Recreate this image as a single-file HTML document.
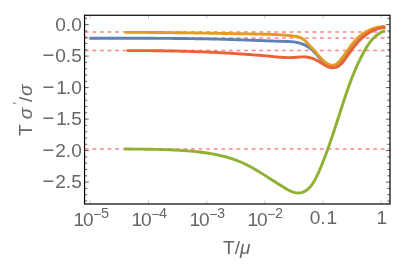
<!DOCTYPE html>
<html><head><meta charset="utf-8"><title>plot</title>
<style>html,body{margin:0;padding:0;background:#fff}body{width:403px;height:273px;overflow:hidden}</style></head>
<body>
<svg width="403" height="273" viewBox="0 0 403 273" style="display:block">
<rect width="403" height="273" fill="#fff"/>
<line x1="84.75" x2="390.0" y1="32.05" y2="32.05" stroke="#ff8585" stroke-width="1.45" stroke-dasharray="3.8 3.79"/>
<line x1="84.75" x2="390.0" y1="37.9" y2="37.9" stroke="#ff8585" stroke-width="1.45" stroke-dasharray="3.8 3.79"/>
<line x1="84.75" x2="390.0" y1="50.45" y2="50.45" stroke="#ff8585" stroke-width="1.45" stroke-dasharray="3.8 3.79"/>
<line x1="84.75" x2="390.0" y1="149.0" y2="149.0" stroke="#ff8585" stroke-width="1.45" stroke-dasharray="3.8 3.79"/>
<path d="M89.40,38.19 L91.01,38.19 L92.61,38.20 L94.22,38.20 L95.83,38.20 L97.43,38.21 L99.04,38.21 L100.64,38.22 L102.25,38.22 L103.86,38.22 L105.46,38.23 L107.07,38.23 L108.68,38.23 L110.28,38.23 L111.89,38.24 L113.50,38.24 L115.10,38.24 L116.71,38.24 L118.32,38.24 L119.92,38.25 L121.53,38.25 L123.14,38.25 L124.75,38.25 L126.35,38.25 L127.96,38.26 L129.57,38.26 L131.17,38.26 L132.78,38.26 L134.39,38.26 L136.00,38.27 L137.60,38.27 L139.21,38.27 L140.82,38.28 L142.43,38.28 L144.03,38.28 L145.64,38.29 L147.25,38.29 L148.86,38.30 L150.46,38.30 L152.07,38.31 L153.68,38.32 L155.28,38.32 L156.89,38.33 L158.50,38.34 L160.11,38.34 L161.71,38.35 L163.32,38.36 L164.93,38.37 L166.54,38.38 L168.14,38.39 L169.75,38.40 L171.36,38.41 L172.97,38.43 L174.57,38.44 L176.18,38.45 L177.79,38.47 L179.40,38.48 L181.00,38.50 L182.61,38.52 L184.22,38.53 L185.82,38.55 L187.43,38.57 L189.04,38.59 L190.65,38.61 L192.25,38.63 L193.86,38.66 L195.47,38.68 L197.07,38.71 L198.68,38.73 L200.29,38.76 L201.89,38.79 L203.50,38.81 L205.11,38.84 L206.71,38.87 L208.32,38.91 L209.92,38.94 L211.53,38.97 L213.14,39.01 L214.74,39.05 L216.35,39.08 L217.95,39.12 L219.56,39.16 L221.16,39.20 L222.77,39.25 L224.38,39.29 L225.98,39.34 L227.59,39.38 L229.19,39.43 L230.80,39.48 L232.40,39.53 L234.01,39.58 L235.61,39.64 L237.22,39.69 L238.82,39.75 L240.42,39.81 L242.03,39.86 L243.63,39.92 L245.24,39.98 L246.84,40.05 L248.45,40.11 L250.05,40.17 L251.66,40.23 L253.26,40.29 L254.87,40.36 L256.47,40.42 L258.08,40.48 L259.68,40.55 L261.29,40.61 L262.89,40.67 L264.50,40.73 L266.11,40.79 L267.71,40.85 L269.32,40.91 L270.93,40.97 L272.54,41.02 L274.15,41.08 L275.76,41.13 L277.37,41.18 L278.98,41.24 L280.59,41.28 L282.20,41.33 L283.81,41.38 L285.42,41.42 L287.04,41.47 L288.65,41.53 L290.25,41.61 L291.86,41.73 L293.45,41.89 L295.04,42.10 L296.62,42.37 L298.19,42.71 L299.74,43.13 L301.28,43.62 L302.79,44.18 L304.27,44.80 L305.71,45.50 L307.12,46.27 L308.49,47.11 L309.80,48.01 L311.06,48.98 L312.27,50.02 L313.42,51.12 L314.53,52.27 L315.62,53.45 L316.69,54.66 L317.75,55.88 L318.82,57.11 L319.92,58.32 L321.04,59.51 L322.21,60.67 L323.44,61.79 L324.74,62.84 L326.11,63.82 L327.53,64.68 L328.99,65.36 L330.46,65.82 L331.92,66.00 L333.35,65.87 L334.74,65.43 L336.09,64.73 L337.38,63.83 L338.63,62.78 L339.83,61.62 L340.97,60.42 L342.05,59.18 L343.10,57.91 L344.10,56.63 L345.07,55.33 L346.01,54.02 L346.94,52.69 L347.85,51.37 L348.77,50.05 L349.68,48.73 L350.61,47.41 L351.55,46.12 L352.52,44.84 L353.52,43.58 L354.55,42.34 L355.61,41.13 L356.71,39.96 L357.85,38.82 L359.01,37.72 L360.22,36.65 L361.46,35.64 L362.73,34.67 L364.04,33.75 L365.39,32.89 L366.77,32.08 L368.19,31.33 L369.64,30.64 L371.13,30.02 L372.63,29.44 L374.16,28.93 L375.71,28.47 L377.28,28.06 L378.85,27.70 L380.43,27.40 L382.02,27.15 L383.61,26.94 L385.19,26.79" fill="none" stroke="#5e81b5" stroke-width="2.9" stroke-linejoin="round"/>
<path d="M124.70,32.33 L126.14,32.33 L127.59,32.33 L129.03,32.33 L130.48,32.34 L131.92,32.34 L133.37,32.35 L134.81,32.35 L136.26,32.36 L137.70,32.36 L139.15,32.37 L140.59,32.38 L142.04,32.39 L143.48,32.39 L144.93,32.40 L146.37,32.41 L147.81,32.42 L149.26,32.43 L150.70,32.44 L152.15,32.45 L153.59,32.46 L155.04,32.48 L156.48,32.49 L157.93,32.50 L159.37,32.51 L160.82,32.53 L162.26,32.54 L163.70,32.56 L165.15,32.57 L166.59,32.59 L168.04,32.60 L169.48,32.62 L170.93,32.63 L172.37,32.65 L173.82,32.67 L175.26,32.68 L176.70,32.70 L178.15,32.72 L179.59,32.74 L181.04,32.76 L182.48,32.78 L183.93,32.80 L185.37,32.82 L186.82,32.84 L188.26,32.86 L189.70,32.88 L191.15,32.90 L192.59,32.92 L194.04,32.94 L195.48,32.96 L196.93,32.99 L198.37,33.01 L199.82,33.03 L201.26,33.05 L202.70,33.08 L204.15,33.10 L205.59,33.12 L207.04,33.15 L208.48,33.17 L209.93,33.20 L211.37,33.22 L212.81,33.25 L214.26,33.27 L215.70,33.30 L217.15,33.32 L218.59,33.35 L220.04,33.37 L221.48,33.40 L222.92,33.43 L224.37,33.45 L225.81,33.48 L227.26,33.51 L228.70,33.53 L230.15,33.56 L231.59,33.59 L233.04,33.61 L234.48,33.64 L235.92,33.67 L237.37,33.70 L238.81,33.73 L240.26,33.75 L241.70,33.78 L243.15,33.81 L244.59,33.84 L246.03,33.87 L247.48,33.89 L248.92,33.92 L250.37,33.95 L251.81,33.98 L253.26,34.01 L254.70,34.04 L256.15,34.07 L257.59,34.09 L259.03,34.12 L260.48,34.15 L261.92,34.18 L263.37,34.21 L264.81,34.24 L266.26,34.28 L267.70,34.31 L269.14,34.35 L270.59,34.40 L272.03,34.44 L273.48,34.50 L274.92,34.55 L276.36,34.62 L277.80,34.69 L279.25,34.77 L280.69,34.85 L282.13,34.95 L283.57,35.05 L285.01,35.16 L286.45,35.29 L287.89,35.42 L289.33,35.56 L290.77,35.72 L292.21,35.89 L293.65,36.07 L295.09,36.27 L296.52,36.49 L297.93,36.79 L299.30,37.18 L300.62,37.71 L301.89,38.38 L303.10,39.17 L304.25,40.06 L305.35,41.04 L306.39,42.09 L307.39,43.18 L308.35,44.27 L309.32,45.34 L310.29,46.37 L311.27,47.37 L312.25,48.35 L313.22,49.35 L314.19,50.38 L315.15,51.45 L316.11,52.57 L317.06,53.71 L318.01,54.87 L318.97,56.02 L319.94,57.17 L320.93,58.29 L321.95,59.38 L323.00,60.42 L324.07,61.39 L325.19,62.29 L326.35,63.10 L327.56,63.81 L328.83,64.41 L330.15,64.88 L331.52,65.19 L332.91,65.29 L334.26,65.13 L335.54,64.65 L336.74,63.88 L337.88,62.90 L338.95,61.79 L339.96,60.62 L340.91,59.46 L341.83,58.32 L342.71,57.18 L343.57,56.03 L344.42,54.88 L345.26,53.72 L346.09,52.54 L346.93,51.36 L347.76,50.17 L348.60,48.99 L349.44,47.81 L350.30,46.63 L351.16,45.47 L352.05,44.31 L352.95,43.18 L353.87,42.06 L354.82,40.97 L355.79,39.91 L356.80,38.87 L357.83,37.87 L358.90,36.90 L360.00,35.97 L361.13,35.07 L362.28,34.21 L363.47,33.39 L364.67,32.61 L365.91,31.87 L367.17,31.17 L368.45,30.52 L369.75,29.91 L371.08,29.34 L372.42,28.82 L373.78,28.35 L375.16,27.93 L376.56,27.56 L377.97,27.24 L379.40,26.97 L380.85,26.76 L382.30,26.60 L383.77,26.50 L385.24,26.45" fill="none" stroke="#e19c24" stroke-width="2.9" stroke-linejoin="round"/>
<path d="M124.26,149.03 L126.17,149.04 L128.07,149.05 L129.97,149.06 L131.86,149.07 L133.75,149.09 L135.64,149.10 L137.53,149.11 L139.41,149.13 L141.29,149.15 L143.17,149.17 L145.05,149.19 L146.93,149.21 L148.80,149.24 L150.67,149.27 L152.55,149.30 L154.42,149.34 L156.28,149.38 L158.15,149.42 L160.02,149.47 L161.89,149.52 L163.75,149.58 L165.62,149.65 L167.49,149.72 L169.35,149.79 L171.22,149.87 L173.09,149.96 L174.96,150.05 L176.82,150.15 L178.69,150.26 L180.56,150.38 L182.44,150.50 L184.31,150.63 L186.18,150.77 L188.06,150.92 L189.94,151.08 L191.82,151.24 L193.70,151.42 L195.58,151.61 L197.47,151.81 L199.35,152.02 L201.23,152.24 L203.11,152.48 L204.99,152.73 L206.86,153.00 L208.74,153.29 L210.60,153.59 L212.47,153.91 L214.32,154.26 L216.18,154.62 L218.02,155.00 L219.86,155.40 L221.69,155.83 L223.52,156.28 L225.33,156.75 L227.14,157.25 L228.93,157.78 L230.72,158.33 L232.49,158.91 L234.25,159.51 L236.00,160.15 L237.74,160.81 L239.47,161.51 L241.18,162.24 L242.87,163.00 L244.56,163.78 L246.23,164.60 L247.89,165.44 L249.54,166.30 L251.19,167.18 L252.82,168.09 L254.45,169.01 L256.07,169.95 L257.68,170.91 L259.29,171.88 L260.89,172.87 L262.49,173.86 L264.09,174.87 L265.69,175.88 L267.28,176.90 L268.87,177.92 L270.46,178.95 L272.06,179.98 L273.65,181.01 L275.25,182.03 L276.85,183.06 L278.45,184.08 L280.06,185.09 L281.68,186.09 L283.30,187.09 L284.93,188.08 L286.56,189.04 L288.21,189.98 L289.89,190.83 L291.59,191.59 L293.32,192.20 L295.11,192.65 L296.93,192.90 L298.77,192.93 L300.59,192.74 L302.37,192.32 L304.07,191.64 L305.69,190.75 L307.22,189.67 L308.65,188.43 L309.98,187.06 L311.20,185.58 L312.33,184.03 L313.38,182.42 L314.37,180.78 L315.30,179.12 L316.18,177.45 L317.01,175.77 L317.82,174.07 L318.59,172.37 L319.34,170.65 L320.07,168.93 L320.80,167.21 L321.51,165.48 L322.21,163.75 L322.91,162.01 L323.60,160.27 L324.27,158.52 L324.95,156.77 L325.61,155.02 L326.26,153.26 L326.91,151.50 L327.55,149.74 L328.19,147.97 L328.82,146.20 L329.45,144.43 L330.06,142.66 L330.68,140.88 L331.29,139.10 L331.89,137.32 L332.49,135.54 L333.09,133.76 L333.69,131.97 L334.28,130.19 L334.87,128.40 L335.45,126.61 L336.04,124.82 L336.62,123.03 L337.20,121.24 L337.78,119.45 L338.36,117.66 L338.94,115.87 L339.52,114.08 L340.10,112.29 L340.67,110.50 L341.26,108.71 L341.84,106.92 L342.42,105.13 L343.01,103.34 L343.59,101.56 L344.18,99.77 L344.78,97.99 L345.38,96.21 L345.98,94.43 L346.58,92.65 L347.19,90.88 L347.81,89.10 L348.44,87.33 L349.07,85.57 L349.71,83.81 L350.36,82.05 L351.02,80.29 L351.69,78.54 L352.37,76.79 L353.06,75.05 L353.76,73.31 L354.47,71.58 L355.20,69.85 L355.95,68.13 L356.70,66.41 L357.48,64.70 L358.26,63.00 L359.07,61.30 L359.89,59.61 L360.73,57.92 L361.59,56.25 L362.47,54.58 L363.36,52.91 L364.28,51.26 L365.22,49.61 L366.18,47.97 L367.17,46.35 L368.20,44.76 L369.26,43.21 L370.37,41.70 L371.54,40.23 L372.76,38.83 L374.04,37.50 L375.39,36.24 L376.81,35.07 L378.31,33.99 L379.90,33.01 L381.57,32.14 L383.34,31.38 L385.22,30.76" fill="none" stroke="#8fb032" stroke-width="2.9" stroke-linejoin="round"/>
<path d="M126.70,50.62 L128.10,50.61 L129.49,50.61 L130.88,50.61 L132.27,50.60 L133.67,50.60 L135.06,50.60 L136.45,50.61 L137.85,50.61 L139.24,50.61 L140.63,50.61 L142.03,50.62 L143.42,50.63 L144.82,50.63 L146.21,50.64 L147.60,50.65 L149.00,50.66 L150.39,50.67 L151.79,50.68 L153.18,50.70 L154.57,50.71 L155.97,50.72 L157.36,50.74 L158.76,50.76 L160.15,50.78 L161.55,50.80 L162.94,50.82 L164.34,50.84 L165.73,50.86 L167.12,50.88 L168.52,50.91 L169.91,50.94 L171.31,50.96 L172.70,50.99 L174.10,51.02 L175.49,51.05 L176.89,51.08 L178.28,51.12 L179.68,51.15 L181.07,51.19 L182.46,51.22 L183.86,51.26 L185.25,51.30 L186.65,51.34 L188.04,51.38 L189.44,51.42 L190.83,51.47 L192.23,51.51 L193.62,51.56 L195.01,51.61 L196.41,51.66 L197.80,51.71 L199.20,51.76 L200.59,51.81 L201.98,51.87 L203.38,51.92 L204.77,51.98 L206.16,52.04 L207.56,52.10 L208.95,52.16 L210.34,52.22 L211.74,52.28 L213.13,52.35 L214.52,52.42 L215.92,52.48 L217.31,52.55 L218.70,52.62 L220.10,52.70 L221.49,52.77 L222.88,52.84 L224.27,52.92 L225.66,53.00 L227.06,53.08 L228.45,53.16 L229.84,53.24 L231.23,53.32 L232.62,53.41 L234.01,53.50 L235.41,53.59 L236.80,53.67 L238.19,53.77 L239.58,53.86 L240.97,53.95 L242.36,54.05 L243.75,54.15 L245.14,54.25 L246.53,54.35 L247.92,54.45 L249.31,54.55 L250.70,54.66 L252.09,54.76 L253.48,54.87 L254.86,54.98 L256.25,55.10 L257.64,55.21 L259.03,55.32 L260.42,55.44 L261.81,55.56 L263.19,55.68 L264.58,55.80 L265.97,55.92 L267.35,56.05 L268.74,56.18 L270.13,56.30 L271.51,56.44 L272.90,56.57 L274.28,56.70 L275.67,56.83 L277.06,56.96 L278.44,57.08 L279.83,57.19 L281.22,57.30 L282.61,57.39 L284.00,57.47 L285.39,57.53 L286.79,57.58 L288.18,57.61 L289.58,57.61 L290.98,57.60 L292.38,57.55 L293.79,57.48 L295.20,57.38 L296.61,57.26 L298.02,57.13 L299.43,57.01 L300.83,56.92 L302.23,56.86 L303.62,56.85 L305.00,56.91 L306.37,57.04 L307.73,57.24 L309.07,57.51 L310.40,57.84 L311.72,58.23 L313.02,58.68 L314.31,59.18 L315.58,59.74 L316.84,60.35 L318.08,61.01 L319.30,61.72 L320.51,62.47 L321.70,63.24 L322.90,64.02 L324.09,64.78 L325.31,65.50 L326.54,66.15 L327.81,66.72 L329.11,67.18 L330.46,67.51 L331.84,67.69 L333.24,67.73 L334.61,67.60 L335.94,67.31 L337.21,66.84 L338.40,66.20 L339.52,65.42 L340.57,64.51 L341.57,63.51 L342.52,62.44 L343.42,61.32 L344.30,60.19 L345.14,59.05 L345.97,57.91 L346.78,56.78 L347.58,55.64 L348.37,54.50 L349.16,53.37 L349.95,52.24 L350.75,51.12 L351.56,49.99 L352.39,48.88 L353.23,47.77 L354.10,46.66 L354.98,45.57 L355.87,44.50 L356.79,43.43 L357.73,42.39 L358.68,41.36 L359.66,40.35 L360.65,39.37 L361.67,38.41 L362.70,37.47 L363.76,36.57 L364.83,35.69 L365.93,34.85 L367.06,34.05 L368.20,33.28 L369.37,32.54 L370.56,31.85 L371.77,31.20 L373.01,30.60 L374.27,30.04 L375.56,29.53 L376.88,29.07 L378.21,28.66 L379.58,28.31 L380.97,28.01 L382.39,27.77 L383.83,27.60 L385.30,27.48" fill="none" stroke="#eb6235" stroke-width="2.9" stroke-linejoin="round"/>
<path d="M84.55,18.30h2.6 M390.0,18.30h-2.6 M84.55,24.60h4.1 M390.0,24.60h-4.1 M84.55,30.90h2.6 M390.0,30.90h-2.6 M84.55,37.20h2.6 M390.0,37.20h-2.6 M84.55,43.50h2.6 M390.0,43.50h-2.6 M84.55,49.80h2.6 M390.0,49.80h-2.6 M84.55,56.10h4.1 M390.0,56.10h-4.1 M84.55,62.40h2.6 M390.0,62.40h-2.6 M84.55,68.70h2.6 M390.0,68.70h-2.6 M84.55,75.00h2.6 M390.0,75.00h-2.6 M84.55,81.30h2.6 M390.0,81.30h-2.6 M84.55,87.60h4.1 M390.0,87.60h-4.1 M84.55,93.90h2.6 M390.0,93.90h-2.6 M84.55,100.20h2.6 M390.0,100.20h-2.6 M84.55,106.50h2.6 M390.0,106.50h-2.6 M84.55,112.80h2.6 M390.0,112.80h-2.6 M84.55,119.10h4.1 M390.0,119.10h-4.1 M84.55,125.40h2.6 M390.0,125.40h-2.6 M84.55,131.70h2.6 M390.0,131.70h-2.6 M84.55,138.00h2.6 M390.0,138.00h-2.6 M84.55,144.30h2.6 M390.0,144.30h-2.6 M84.55,150.60h4.1 M390.0,150.60h-4.1 M84.55,156.90h2.6 M390.0,156.90h-2.6 M84.55,163.20h2.6 M390.0,163.20h-2.6 M84.55,169.50h2.6 M390.0,169.50h-2.6 M84.55,175.80h2.6 M390.0,175.80h-2.6 M84.55,182.10h4.1 M390.0,182.10h-4.1 M84.55,188.40h2.6 M390.0,188.40h-2.6 M84.55,194.70h2.6 M390.0,194.70h-2.6 M84.55,201.00h2.6 M390.0,201.00h-2.6" stroke="#333" stroke-width="0.8" fill="none"/>
<path d="M90.30,204.0v-3.6 M90.30,15.27v3.6 M148.50,204.0v-3.6 M148.50,15.27v3.6 M206.70,204.0v-3.6 M206.70,15.27v3.6 M264.90,204.0v-3.6 M264.90,15.27v3.6 M323.10,204.0v-3.6 M323.10,15.27v3.6 M381.30,204.0v-3.6 M381.30,15.27v3.6" stroke="#8a8a8a" stroke-width="0.45" fill="none"/>
<rect x="84.55" y="15.27" width="305.45" height="188.73" fill="none" stroke="#000" stroke-width="1.2"/>
<g font-family="'Liberation Sans', sans-serif" font-size="19.1" fill="#666" style="filter:grayscale(1)">
<text x="81.8" y="30.80" text-anchor="end">0.0</text>
<text x="81.8" y="62.30" text-anchor="end"><tspan font-size="20.4">−</tspan><tspan dx="0.8">0.5</tspan></text>
<text x="81.8" y="93.80" text-anchor="end"><tspan font-size="20.4">−</tspan><tspan dx="1.9">1</tspan><tspan dx="-1.1">.0</tspan></text>
<text x="81.8" y="125.30" text-anchor="end"><tspan font-size="20.4">−</tspan><tspan dx="1.9">1</tspan><tspan dx="-1.1">.5</tspan></text>
<text x="81.8" y="156.80" text-anchor="end"><tspan font-size="20.4">−</tspan><tspan dx="0.8">2.0</tspan></text>
<text x="81.8" y="188.30" text-anchor="end"><tspan font-size="20.4">−</tspan><tspan dx="0.8">2.5</tspan></text>
<text y="226"><tspan x="73.50">1</tspan><tspan x="82.95">0</tspan><tspan x="93.20" y="219" font-size="13.8">−</tspan><tspan x="101.00" y="218" font-size="14.5">5</tspan></text>
<text y="226"><tspan x="131.50">1</tspan><tspan x="140.95">0</tspan><tspan x="151.20" y="219" font-size="13.8">−</tspan><tspan x="159.00" y="218" font-size="14.5">4</tspan></text>
<text y="226"><tspan x="189.50">1</tspan><tspan x="198.95">0</tspan><tspan x="209.20" y="219" font-size="13.8">−</tspan><tspan x="217.00" y="218" font-size="14.5">3</tspan></text>
<text y="226"><tspan x="247.50">1</tspan><tspan x="256.95">0</tspan><tspan x="267.20" y="219" font-size="13.8">−</tspan><tspan x="275.00" y="218" font-size="14.5">2</tspan></text>
<text y="224"><tspan x="309.7">0.</tspan><tspan x="326.5">1</tspan></text>
<text y="224"><tspan x="376.4">1</tspan></text>
<text x="236.8" y="254" text-anchor="middle">T/<tspan font-style="italic">μ</tspan></text>
<text transform="translate(32.3,136) rotate(-90)"><tspan x="0" y="0">T</tspan> <tspan x="16.8" y="0" font-style="italic">σ</tspan><tspan x="31.7" y="-10.5" font-size="12">′</tspan><tspan x="34.1" y="0">/</tspan><tspan x="39.9" y="0" font-style="italic">σ</tspan></text>
</g>
</svg>
</body></html>
